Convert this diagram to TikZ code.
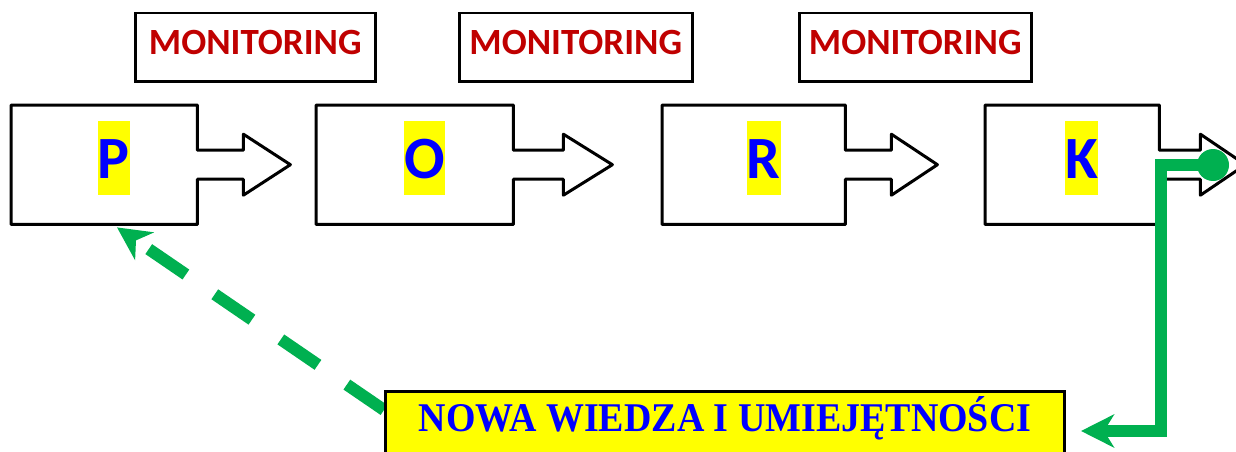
\documentclass[tikz,border=0pt]{standalone}
\usepackage{fontspec}
\newfontfamily\calibfont{Carlito}
\newfontfamily\headfont{Liberation Serif}[FakeStretch=0.93]
\usetikzlibrary{arrows.meta,calc}

\definecolor{flowgreen}{HTML}{00B050}
\definecolor{monred}{HTML}{C00000}
\definecolor{hlyellow}{HTML}{FFFF00}
\definecolor{letterblue}{HTML}{0000FF}

\tikzset{
  stagebox/.style={rectangle, inner sep=0pt, minimum height=119pt, anchor=north west},
  stageline/.style={draw=black, line width=3pt, line join=round, fill=white},
  letter/.style={fill=hlyellow, text=letterblue, inner sep=0pt, text height=57pt,
    text depth=17pt, anchor=base, font=\calibfont\bfseries\fontsize{60}{72}\selectfont},
  monbox/.style={draw=black, line width=2.5pt, fill=white, inner sep=0pt,
    minimum height=68pt, text height=41pt, text depth=27pt, anchor=north west,
    text=monred, font=\calibfont\bfseries\fontsize{37}{44}\selectfont},
  knowbox/.style={draw=black, line width=3pt, fill=hlyellow, inner sep=0pt,
    minimum width=679pt, text height=40pt, text depth=60pt, anchor=north west,
    text=letterblue, font=\headfont\bfseries\fontsize{40.8}{48}\selectfont},
  flow/.style={flowgreen, line width=12pt,
    -{Stealth[length=33pt, width=33pt, inset=10pt]}},
}

% outline of a process block: box plus block arrow on its right side
% #1 node name, #2 shaft length, #3 head length
\newcommand\stageoutline[3]{%
  \draw[stageline] (#1.north west) -- (#1.north east)
    -- ($(#1.east)+(0,-14.5)$) -- ++(#2,0) -- ++(0,-16)
    -- ($(#1.east)+(#2+#3,0)$)
    -- ($(#1.east)+(#2,30.5)$) -- ++(0,-16)
    -- ($(#1.east)+(0,14.5)$) -- (#1.south east) -- (#1.south west) -- cycle;
}

\begin{document}
\begin{tikzpicture}[x=1pt, y=-1pt]
  \useasboundingbox (0,0) rectangle (1236,452);
  \clip (0,0) rectangle (1236,452);

  % monitoring labels
  \node[monbox, minimum width=240pt] (m1) at (134,12) {MONITORING};
  \node[monbox, minimum width=233pt] (m2) at (458,12) {MONITORING};
  \node[monbox, minimum width=232pt] (m3) at (798,12) {MONITORING};

  % process blocks
  \node[stagebox, minimum width=186pt] (P) at (11,105) {};
  \node[stagebox, minimum width=197pt] (O) at (316,105) {};
  \node[stagebox, minimum width=183pt] (R) at (662,105) {};
  \node[stagebox, minimum width=174pt] (K) at (985,105) {};
  \stageoutline{P}{46}{47}
  \stageoutline{O}{50}{49}
  \stageoutline{R}{46}{46}
  \stageoutline{K}{41}{45}

  \node[letter] (lp) at ($(P.center)+(9.5,13.5)$) {P};
  \node[letter] (lo) at ($(O.center)+(10,13.5)$) {O};
  \node[letter] (lr) at ($(R.center)+(10,13.5)$) {R};
  \node[letter] (lk) at ($(K.center)+(9.5,13.5)$) {K};

  % feedback loop
  \coordinate (nwstart) at (384,410);
  \coordinate (ptarget) at ($(P.south west)+(106,3)$);
  \draw[flow, dash pattern=on 45pt off 35pt] (nwstart) -- (ptarget);

  \node[knowbox] (nowa) at (384,390) {NOWA WIEDZA I UMIEJĘTNOŚCI};

  \node[circle, fill=flowgreen, inner sep=0pt, minimum size=32pt] (dot) at (1213,165) {};
  \coordinate (nwend) at ($(nowa.north east)+(15,41)$);
  \draw[flow, line join=miter] (dot.center) -- ++(-52,0) |- (nwend);
\end{tikzpicture}
\end{document}
